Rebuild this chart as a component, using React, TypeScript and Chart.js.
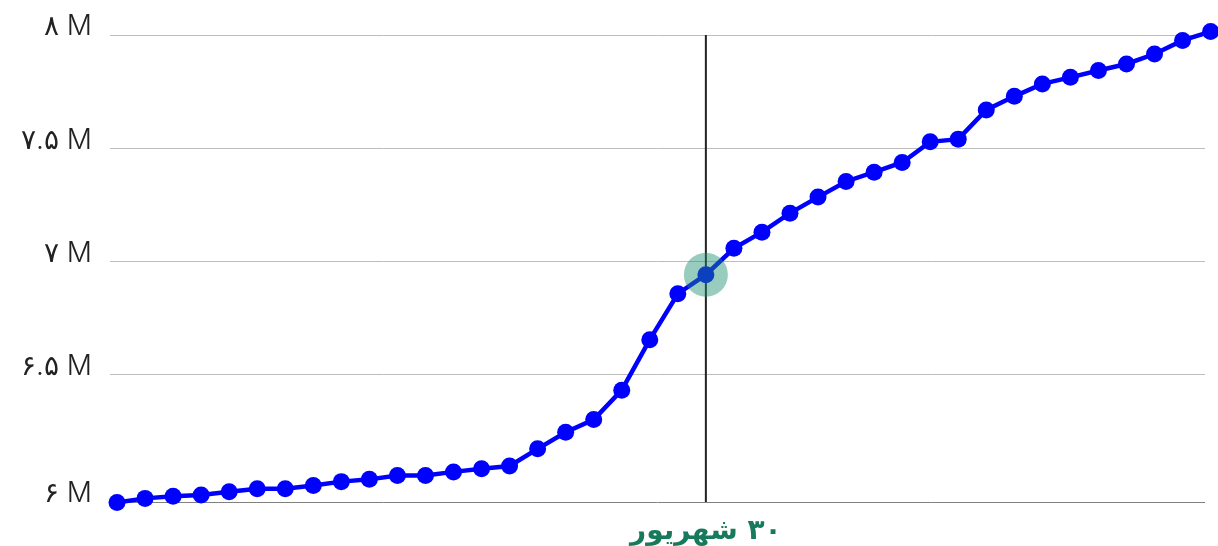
import React, { useEffect, useRef } from 'react';
import { Chart, registerables } from 'chart.js';

Chart.register(...registerables);

// Series values (number of items), one point per day
const values: number[] = [
  5935000, 5953000, 5962000, 5968000, 5982000, 5996000, 5996000, 6010000, 6027000, 6037000,
  6054000, 6054000, 6070000, 6084000, 6096000, 6172000, 6245000, 6301000, 6431000, 6654000,
  6857000, 6941000, 7058000, 7129000, 7213000, 7284000, 7353000, 7394000, 7437000, 7528000,
  7540000, 7669000, 7729000, 7784000, 7813000, 7843000, 7872000, 7916000, 7976000, 8015000,
];

const highlightIndex = 21;
const xTickLabel = '۳۰ شهریور';

const yTickValues: number[] = [5937000, 6500000, 7000000, 7500000, 8000000];
const yTickLabels: string[] = ['۶ M', '۶.۵ M', '۷ M', '۷.۵ M', '۸ M'];

const markerPlugin = {
  id: 'marker',
  beforeDatasetsDraw(chart: any) {
    const { ctx, chartArea, scales } = chart;
    const x = scales.x.getPixelForValue(highlightIndex);
    ctx.save();
    ctx.strokeStyle = '#222222';
    ctx.lineWidth = 2;
    ctx.beginPath();
    ctx.moveTo(x, chartArea.top);
    ctx.lineTo(x, chartArea.bottom);
    ctx.stroke();
    ctx.restore();
  },
  afterDatasetsDraw(chart: any) {
    const { ctx, scales } = chart;
    const x = scales.x.getPixelForValue(highlightIndex);
    const y = scales.y.getPixelForValue(values[highlightIndex]);
    ctx.save();
    ctx.fillStyle = 'rgba(26, 143, 110, 0.45)';
    ctx.beginPath();
    ctx.arc(x, y, 22, 0, Math.PI * 2);
    ctx.fill();
    ctx.restore();
  },
};

export default function App() {
  const canvasRef = useRef<HTMLCanvasElement | null>(null);

  useEffect(() => {
    const canvas = canvasRef.current;
    if (!canvas) return;
    const chart = new Chart(canvas, {
      type: 'line',
      data: {
        datasets: [
          {
            data: values.map((v, i) => ({ x: i, y: v })),
            borderColor: '#0000ff',
            backgroundColor: '#0000ff',
            borderWidth: 4.5,
            pointRadius: 8.5,
            pointBackgroundColor: '#0000ff',
            pointBorderWidth: 0,
            tension: 0,
            clip: false,
          } as any,
        ],
      },
      options: {
        responsive: false,
        animation: false,
        events: [],
        layout: { padding: { top: 35, right: 13, left: 0, bottom: 0 } },
        plugins: {
          legend: { display: false },
          tooltip: { enabled: false },
        },
        scales: {
          x: {
            type: 'linear',
            min: -0.25,
            max: 38.8,
            afterBuildTicks: (s: any) => {
              s.ticks = [{ value: highlightIndex }];
            },
            afterFit: (s: any) => {
              s.height = 44;
            },
            grid: { display: false },
            border: { display: false },
            ticks: {
              autoSkip: false,
              maxRotation: 0,
              padding: 5,
              color: '#187a5c',
              font: { family: "'DejaVu Sans', sans-serif", size: 28, weight: 'bold' },
              callback: () => '\u200F' + xTickLabel,
            },
          },
          y: {
            type: 'linear',
            min: yTickValues[0],
            max: yTickValues[yTickValues.length - 1],
            afterBuildTicks: (s: any) => {
              s.ticks = yTickValues.map((v) => ({ value: v }));
            },
            afterFit: (s: any) => {
              s.width = 110;
            },
            grid: {
              drawTicks: false,
              lineWidth: 1,
              color: (ctx: any) => (ctx.index === 0 ? '#808080' : '#bdbdbd'),
            },
            border: { display: false },
            ticks: {
              padding: 18,
              labelOffset: -8,
              color: '#222222',
              font: { family: "Inter, 'DejaVu Sans', sans-serif", size: 28, weight: 300 },
              callback: (_v: any, i: number) => yTickLabels[i],
            },
          },
        },
      },
      plugins: [markerPlugin],
    });
    return () => chart.destroy();
  }, []);

  return (
    <div style={{ position: 'fixed', left: 0, top: 0, width: 1218, height: 546, background: '#ffffff' }}>
      <canvas ref={canvasRef} width={1218} height={546} style={{ width: 1218, height: 546, display: 'block' }} />
    </div>
  );
}
